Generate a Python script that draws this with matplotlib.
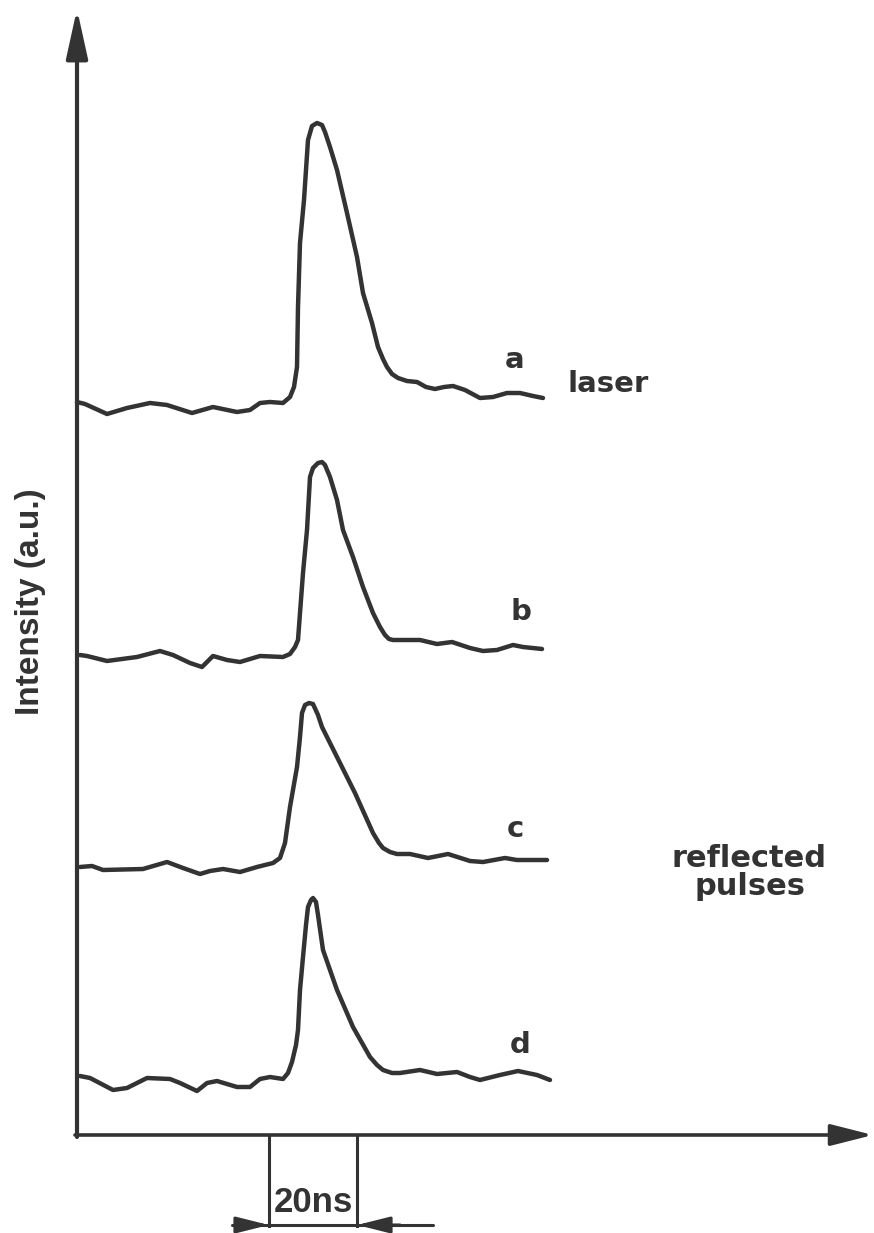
import matplotlib
matplotlib.use("Agg")
import matplotlib.pyplot as plt

# ---- data (time position, signal level; screen-like units) ----
a_t = [77, 85, 107, 127, 150, 167, 192, 213, 237, 250, 260, 270, 283, 290, 294, 297, 298,
       300, 304, 308, 312, 317, 322, 325, 330, 337, 347, 357, 363, 372, 378, 383, 387, 392,
       398, 407, 417, 426, 435, 444, 453, 465, 480, 493, 507, 520, 533, 543]
a_y = [402, 404, 414, 408, 403, 405, 413, 407, 412, 410, 403, 402, 403, 397, 387, 367, 307,
       243, 200, 140, 126, 123, 125, 132, 147, 170, 213, 257, 293, 323, 347, 359, 367, 374,
       378, 381, 382, 387, 389, 387, 386, 390, 398, 397, 393, 393, 396, 398]

b_t = [80, 87, 107, 137, 160, 173, 190, 202, 207, 213, 227, 240, 260, 283, 290, 295, 298,
       300, 303, 307, 310, 313, 318, 322, 325, 330, 337, 343, 353, 363, 373, 380, 385, 389,
       393, 420, 437, 452, 470, 483, 497, 513, 523, 542]
b_y = [655, 656, 661, 657, 651, 655, 663, 667, 662, 656, 660, 662, 656, 657, 654, 647, 640,
       613, 573, 530, 477, 468, 463, 462, 465, 477, 500, 530, 557, 587, 613, 627, 635, 639,
       640, 640, 644, 642, 648, 651, 650, 645, 647, 649]

c_t = [80, 92, 103, 143, 167, 183, 200, 210, 223, 240, 257, 273, 280, 285, 290, 297, 300,
       302, 305, 309, 313, 318, 322, 337, 355, 373, 379, 383, 390, 397, 410, 428, 448, 470,
       483, 505, 517, 547]
c_y = [867, 866, 870, 869, 862, 868, 874, 871, 869, 872, 867, 863, 858, 843, 807, 767, 737,
       713, 705, 703, 704, 715, 727, 757, 793, 833, 843, 848, 852, 854, 854, 858, 854, 861,
       862, 858, 860, 860]

d_t = [80, 90, 113, 127, 147, 170, 180, 197, 207, 217, 237, 250, 260, 270, 283, 288, 292,
       296, 298, 300, 303, 306, 308, 311, 313, 316, 318, 323, 337, 353, 370, 377, 383, 392,
       400, 420, 437, 457, 470, 480, 500, 518, 537, 550]
d_y = [1076, 1078, 1090, 1088, 1078, 1079, 1083, 1091, 1083, 1081, 1087, 1087, 1079, 1077,
       1079, 1073, 1062, 1045, 1030, 990, 957, 925, 907, 900, 898, 902, 915, 950, 990, 1027,
       1057, 1065, 1070, 1073, 1073, 1070, 1074, 1072, 1077, 1080, 1075, 1071, 1075, 1080]

trace_labels = ["a", "b", "c", "d"]
label_pos = [(515, 368), (521, 620), (515, 837), (520, 1053)]
y_label = "Intensity (a.u.)"
scale_label = "20ns"
scale_ticks = [269, 357]

INK = "#333333"
SANS = ["Liberation Sans", "DejaVu Sans"]
WIDE = ["DejaVu Sans"]

fig = plt.figure(figsize=(8.74, 12.33), dpi=100)
ax = fig.add_axes([0, 0, 1, 1])
ax.set_xlim(0, 874)
ax.set_ylim(1233, 0)
ax.axis("off")

for t, y in [(a_t, a_y), (b_t, b_y), (c_t, c_y), (d_t, d_y)]:
    ax.plot(t, y, color=INK, lw=3.2, solid_joinstyle="round", solid_capstyle="round")

# axes with arrows
ax.annotate("", xy=(77, 9), xytext=(77, 1137),
            arrowprops=dict(arrowstyle="-|>,head_length=1.5,head_width=0.33",
                            mutation_scale=20, lw=3.0, color=INK, shrinkA=0, shrinkB=0))
ax.annotate("", xy=(873, 1135), xytext=(75, 1135),
            arrowprops=dict(arrowstyle="-|>,head_length=1.3,head_width=0.33",
                            mutation_scale=20, lw=2.6, color=INK, shrinkA=0, shrinkB=0))

# 20 ns scale marker
for xt in scale_ticks:
    ax.plot([xt, xt], [1135, 1226], color=INK, lw=2.2)
ax.plot([232, 433], [1225, 1225], color=INK, lw=2.2, solid_capstyle="round")
ax.annotate("", xy=(scale_ticks[0], 1225), xytext=(238, 1225),
            arrowprops=dict(arrowstyle="-|>,head_length=1.0,head_width=0.25",
                            mutation_scale=20, lw=2.2, color=INK, shrinkA=0, shrinkB=0))
ax.annotate("", xy=(scale_ticks[1], 1225), xytext=(400, 1225),
            arrowprops=dict(arrowstyle="-|>,head_length=1.0,head_width=0.25",
                            mutation_scale=20, lw=2.2, color=INK, shrinkA=0, shrinkB=0))
ax.text(313, 1212, scale_label, ha="center", va="baseline",
        fontsize=25, fontweight="bold", color=INK, family=SANS)

for lab, (x, y) in zip(trace_labels, label_pos):
    ax.text(x, y, lab, ha="center", va="baseline", fontsize=21, fontweight="bold",
            color=INK, family=WIDE)

ax.text(567, 392, "laser", ha="left", va="baseline", fontsize=21, fontweight="bold",
        color=INK, family=WIDE)
ax.text(749, 867, "reflected", ha="center", va="baseline", fontsize=22,
        fontweight="bold", color=INK, family=WIDE)
ax.text(750, 895, "pulses", ha="center", va="baseline", fontsize=22,
        fontweight="bold", color=INK, family=WIDE)
ax.text(31, 602, y_label, ha="center", va="center", rotation=90, fontsize=24,
        fontweight="bold", color=INK, family=SANS)

fig.savefig("out.png", dpi=100, facecolor="white")
